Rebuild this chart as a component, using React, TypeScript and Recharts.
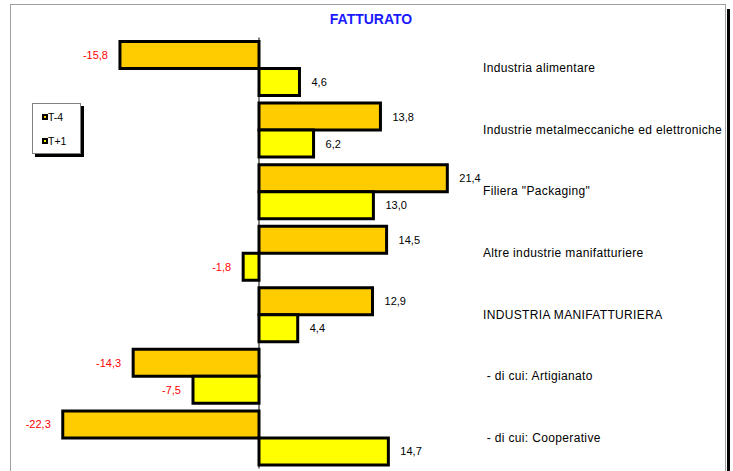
import { BarChart, Bar, XAxis, YAxis, Legend, LabelList, ReferenceLine } from "recharts";

const categories = [
  "Industria alimentare",
  "Industrie metalmeccaniche ed elettroniche",
  'Filiera "Packaging"',
  "Altre industrie manifatturiere",
  "INDUSTRIA MANIFATTURIERA",
  " - di cui: Artigianato",
  " - di cui: Cooperative",
];
const t4Values = [-15.8, 13.8, 21.4, 14.5, 12.9, -14.3, -22.3];
const t1Values = [4.6, 6.2, 13.0, -1.8, 4.4, -7.5, 14.7];
const seriesNames = ["T-4", "T+1"];

const data = categories.map((name, i) => ({ name, t4: t4Values[i], t1: t1Values[i] }));

const FONT = '"Liberation Sans", Arial, sans-serif';

const fmt = (v: number) => v.toFixed(1).replace(".", ",");

const ValueLabel = (props: any) => {
  const { x, y, width, height, value } = props;
  const v = Number(value);
  const left = Math.min(x, x + width);
  const right = Math.max(x, x + width);
  const cy = y + height / 2;
  const neg = v < 0;
  return (
    <text
      x={neg ? left - 12 : right + 12}
      y={cy}
      dy={4}
      textAnchor={neg ? "end" : "start"}
      fontSize={11}
      fontFamily={FONT}
      fill={neg ? "#ff0000" : "#000"}
    >
      {fmt(v)}
    </text>
  );
};

const CategoryTick = (props: any) => {
  const { x, y, payload } = props;
  return (
    <text
      x={x + 4}
      y={y}
      dy={4}
      textAnchor="start"
      fontSize={12}
      letterSpacing={0.35}
      fontFamily={FONT}
      fill="#000"
      style={{ whiteSpace: "pre" }}
    >
      {payload.value}
    </text>
  );
};

const LegendBox = (props: any) => {
  const items = [...(props.payload || [])].sort(
    (a: any, b: any) => seriesNames.indexOf(a.value) - seriesNames.indexOf(b.value)
  );
  return (
    <div
      style={{
        width: 47,
        height: 49,
        border: "1px solid #808080",
        background: "#fff",
        boxShadow: "3px 3px 0 #000",
        fontFamily: FONT,
        fontSize: 10.5,
        position: "relative",
      }}
    >
      {items.map((it: any, i: number) => (
        <div
          key={it.value}
          style={{
            position: "absolute",
            left: 9,
            top: 7 + i * 24,
            display: "flex",
            alignItems: "center",
            height: 12,
          }}
        >
          <span
            style={{
              width: 2,
              height: 2,
              border: "2px solid #000",
              background: it.color,
              display: "inline-block",
              marginRight: 0,
            }}
          />
          <span style={{ color: "#000" }}>{it.value}</span>
        </div>
      ))}
    </div>
  );
};

export default function App() {
  return (
    <div
      style={{
        position: "absolute",
        left: 0,
        top: 0,
        width: 733,
        height: 471,
        background: "#fff",
        overflow: "hidden",
        fontFamily: FONT,
      }}
    >
      <div
        style={{
          position: "absolute",
          left: 10,
          top: 4,
          width: 714,
          height: 480,
          border: "1px solid #a0a0a0",
        }}
      />
      <div style={{ position: "absolute", left: 727, top: 9, width: 3, height: 470, background: "#000" }} />
      <div
        style={{
          position: "absolute",
          left: 0,
          top: 11,
          width: 742,
          textAlign: "center",
          color: "#1a1aff",
          fontWeight: "bold",
          fontSize: 14,
        }}
      >
        FATTURATO
      </div>
      <div style={{ position: "absolute", left: 0, top: 0 }}>
        <BarChart
          width={733}
          height={471}
          layout="vertical"
          data={data}
          margin={{ top: 37.5, right: 0, bottom: 2.5, left: 39 }}
          barCategoryGap={4}
          barGap={0}
        >
          <XAxis type="number" domain={[-25, 25]} hide />
          <YAxis
            type="category"
            dataKey="name"
            orientation="right"
            width={254}
            axisLine={false}
            tickLine={false}
            tickSize={0}
            tickMargin={0}
            tick={<CategoryTick />}
            interval={0}
          />
          <Legend
            layout="vertical"
            align="center"
            verticalAlign="middle"
            content={<LegendBox />}
            wrapperStyle={{ left: 32, top: 103, width: 49, height: 51 }}
          />
          <ReferenceLine x={0} stroke="#000" strokeWidth={1} />
          <Bar dataKey="t4" name={seriesNames[0]} fill="#ffcc00" stroke="#000" strokeWidth={3} isAnimationActive={false}>
            <LabelList dataKey="t4" content={<ValueLabel />} />
          </Bar>
          <Bar dataKey="t1" name={seriesNames[1]} fill="#ffff00" stroke="#000" strokeWidth={3} isAnimationActive={false}>
            <LabelList dataKey="t1" content={<ValueLabel />} />
          </Bar>
        </BarChart>
      </div>
    </div>
  );
}
